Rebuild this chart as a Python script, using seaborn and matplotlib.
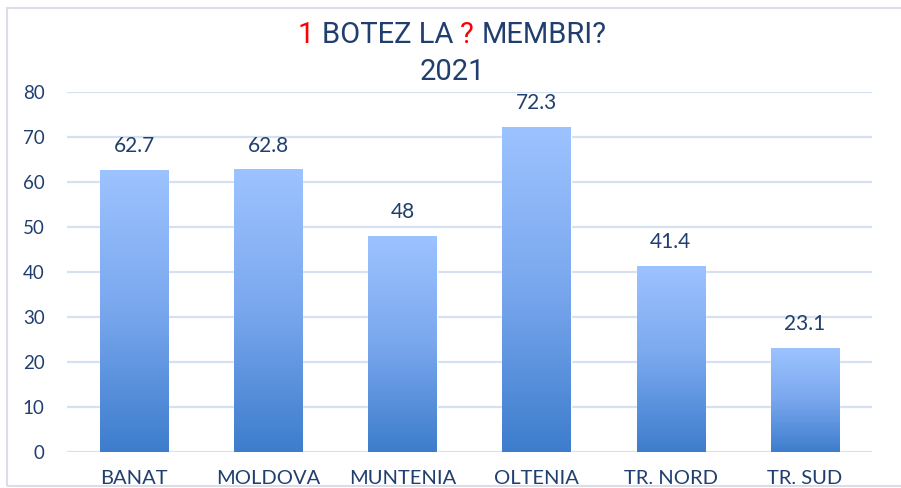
import numpy as np
import matplotlib.pyplot as plt
import seaborn as sns
from matplotlib import patheffects as pe
from matplotlib.colors import LinearSegmentedColormap

regions = ['BANAT', 'MOLDOVA', 'MUNTENIA', 'OLTENIA', 'TR. NORD', 'TR. SUD']
values = [62.7, 62.8, 48, 72.3, 41.4, 23.1]
yticks = [0, 10, 20, 30, 40, 50, 60, 70, 80]
title_parts = [('1', 'red'), (' BOTEZ LA', 'text'), (' ?', 'red'), (' MEMBRI?', 'text')]
subtitle = '2021'

TEXT = '#203F6E'
RED = '#FF0000'
GRID = '#D5E0F0'

sns.set_theme(style='white')
plt.rcParams['font.family'] = ['Lato', 'DejaVu Sans']

fig = plt.figure(figsize=(9.01, 4.88), dpi=100)
ax = fig.add_axes([67 / 901, 36 / 488, 805 / 901, 360 / 488])

sns.barplot(x=regions, y=values, color='#5B8FDB', saturation=1, width=0.51, ax=ax)

ax.set_ylim(0, 80)
ax.set_xlim(-0.5, len(regions) - 0.5)
ax.set_yticks(yticks)
ax.set_axisbelow(True)
ax.yaxis.grid(True, color=GRID, lw=1.6)
ax.xaxis.grid(False)
sns.despine(ax=ax, left=True, bottom=True)
ax.tick_params(axis='y', length=0, pad=16, labelsize=13.5, labelcolor=TEXT)
ax.tick_params(axis='x', length=0, pad=13, labelsize=14.5, labelcolor=TEXT)
ax.set_xlabel('')
ax.set_ylabel('')

# gradient fill on each bar
cmap = LinearSegmentedColormap.from_list('bar', ['#3D7DCC', '#79A7EE', '#9DC3FF'])
grad = np.linspace(0, 1, 256).reshape(-1, 1)
for bar in ax.patches:
    bar.set_path_effects([pe.SimplePatchShadow(offset=(0.6, -1.6), shadow_rgbFace='#555555', alpha=0.45),
                          pe.Normal()])
    x0, w, h = bar.get_x(), bar.get_width(), bar.get_height()
    im = ax.imshow(grad, cmap=cmap, origin='lower', aspect='auto',
                   extent=[x0, x0 + w, 0, h], zorder=bar.get_zorder() + 0.1)
    im.set_clip_path(bar)
ax.set_ylim(0, 80)
ax.set_xlim(-0.5, len(regions) - 0.5)

ax.bar_label(ax.containers[0], fmt='%g', padding=10, fontsize=15, color=TEXT)

# multicolour title
renderer = fig.canvas.get_renderer()
tfont = dict(family=['Roboto', 'Liberation Sans'], fontsize=21)
full = ''.join(p for p, _ in title_parts)
probe = fig.text(0, 0, full, **tfont)
W = probe.get_window_extent(renderer).width / (901)
probe.remove()
left = 452 / 901 - W / 2
ybase = (488 - 43) / 488
prefix = ''
for i, (part, c) in enumerate(title_parts):
    prefix += part
    col = RED if c == 'red' else TEXT
    if i == 0:
        fig.text(left, ybase, part, ha='left', va='baseline', color=col, **tfont)
    else:
        t = fig.text(0, 0, prefix, **tfont)
        pw = t.get_window_extent(renderer).width / 901
        t.remove()
        fig.text(left + pw, ybase, part.strip(), ha='right', va='baseline', color=col, **tfont)
fig.text(452 / 901, (488 - 80) / 488, subtitle, ha='center', va='baseline', color=TEXT, **tfont)

# chart frame
fig.add_artist(plt.Rectangle((7 / 901, 2 / 488), 1.0, 478 / 488, transform=fig.transFigure,
                             fill=False, ec='#D9DEEA', lw=1.5))

fig.savefig('out.png', dpi=100, facecolor='white')
